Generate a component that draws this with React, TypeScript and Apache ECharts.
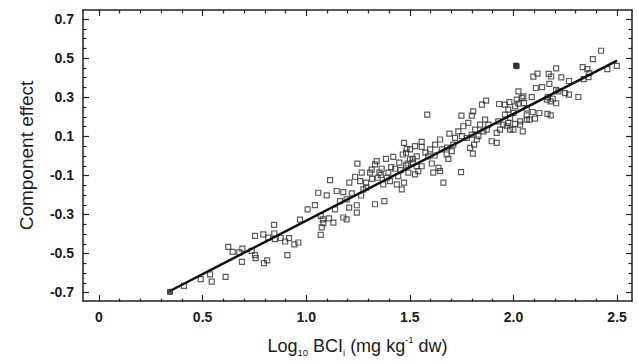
import React, { useEffect, useRef } from "react";
import * as echarts from "echarts";

// Axis ranges and tick values
const xRange = [-0.077, 2.572];
const yRange = [-0.746, 0.746];
const xMajor = [0, 0.5, 1.0, 1.5, 2.0, 2.5];
const xMinor = [0.1, 0.2, 0.3, 0.4, 0.6, 0.7, 0.8, 0.9, 1.1, 1.2, 1.3, 1.4, 1.6, 1.7, 1.8, 1.9, 2.1, 2.2, 2.3, 2.4];
const yMajor = [-0.7, -0.5, -0.3, -0.1, 0.1, 0.3, 0.5, 0.7];
const yMinor = [-0.65, -0.6, -0.55, -0.45, -0.4, -0.35, -0.25, -0.2, -0.15, -0.05, 0, 0.05, 0.15, 0.2, 0.25, 0.35, 0.4, 0.45, 0.55, 0.6, 0.65];

// Regression line end points [log10 BCI, component effect]
const fitLine: [number, number][] = [[0.34, -0.696], [2.5, 0.487]];

// Filled (overlapping) markers
const filledPoints: [number, number][] = [[0.343, -0.699], [2.015, 0.458], [2.013, 0.461]];

// Observations, low range
const lowPoints: [number, number][] = [
  [0.41, -0.668], [0.491, -0.634], [0.536, -0.61], [0.544, -0.647], [0.611, -0.622],
  [0.624, -0.469], [0.645, -0.494], [0.677, -0.497], [0.692, -0.477], [0.69, -0.545],
  [0.737, -0.489], [0.753, -0.511], [0.756, -0.526], [0.753, -0.412], [0.793, -0.404],
  [0.796, -0.552], [0.812, -0.538], [0.817, -0.421], [0.845, -0.356], [0.846, -0.4],
  [0.849, -0.429], [0.877, -0.423], [0.898, -0.441], [0.917, -0.424], [0.909, -0.511],
  [0.943, -0.456], [0.962, -0.446], [0.97, -0.329],
];

// Observations, middle range
const midPoints: [number, number][] = [
  [1.007, -0.276], [1.042, -0.254], [1.058, -0.191], [1.099, -0.204], [1.115, -0.126],
  [1.07, -0.31], [1.08, -0.327], [1.083, -0.347], [1.075, -0.369], [1.07, -0.407],
  [1.11, -0.322], [1.131, -0.344], [1.139, -0.276], [1.147, -0.182], [1.163, -0.234],
  [1.179, -0.188], [1.179, -0.318], [1.195, -0.225], [1.195, -0.327], [1.207, -0.267],
  [1.208, -0.139], [1.22, -0.194], [1.236, -0.109], [1.244, -0.255], [1.244, -0.293],
  [1.247, -0.042], [1.26, -0.131], [1.268, -0.088], [1.276, -0.174], [1.289, -0.139],
  [1.308, -0.088], [1.316, -0.072], [1.332, -0.25], [1.332, -0.046], [1.34, -0.029],
  [1.345, -0.114], [1.353, -0.088], [1.364, -0.068], [1.372, -0.148], [1.377, -0.234],
  [1.385, -0.017], [1.389, -0.114], [1.396, -0.088], [1.404, -0.131], [1.42, -0.007],
  [1.429, -0.068], [1.437, -0.148], [1.444, -0.106], [1.449, -0.037], [1.461, -0.174],
  [1.472, -0.139], [1.472, 0.065], [1.482, 0.014], [1.49, -0.041], [1.493, -0.088],
  [1.501, 0.031], [1.514, -0.017], [1.525, 0.048], [1.533, -0.055], [1.541, -0.08],
  [1.557, 0.07], [1.584, 0.21], [1.466, 0.005], [1.485, 0.034], [1.557, 0.044],
  [1.533, -0.004], [1.514, -0.037], [1.482, -0.051], [1.525, -0.097], [1.557, -0.055],
  [1.589, -0.004], [1.598, 0.031], [1.622, 0.056], [1.646, 0.082], [1.654, 0.031],
  [1.606, -0.041], [1.638, -0.063], [1.646, -0.08], [1.613, -0.088], [1.662, -0.139],
  [1.747, -0.085], [1.678, 0.005], [1.686, -0.017], [1.702, 0.022], [1.71, 0.056],
  [1.718, 0.09], [1.691, 0.112], [1.734, 0.124], [1.749, 0.204],
  [1.29, -0.165], [1.318, -0.12], [1.36, -0.1], [1.41, -0.06], [1.455, -0.075],
  [1.5, -0.02], [1.575, 0.015], [1.62, 0.0], [1.68, 0.04], [1.265, -0.205],
];

// Observations, high range
const highPoints: [number, number][] = [
  [1.758, 0.15], [1.782, 0.167], [1.799, 0.204], [1.806, 0.226], [1.751, 0.099],
  [1.775, 0.09], [1.799, 0.107], [1.815, 0.133], [1.823, 0.082], [1.839, 0.158],
  [1.831, 0.099], [1.855, 0.124], [1.863, 0.184], [1.871, 0.133], [1.879, 0.158],
  [1.895, 0.073], [1.919, 0.065], [1.919, 0.116], [1.927, 0.175], [1.935, 0.133],
  [1.951, 0.158], [1.959, 0.21], [1.975, 0.235], [1.984, 0.193], [1.984, 0.133],
  [2.0, 0.218], [2.008, 0.252], [2.016, 0.286], [2.024, 0.329], [2.04, 0.295],
  [2.051, 0.269], [2.032, 0.158], [2.045, 0.124], [2.064, 0.184], [1.848, 0.261],
  [1.868, 0.281], [1.931, 0.264], [1.791, 0.039], [1.804, 0.01], [1.81, 0.056],
  [2.423, 0.537], [2.383, 0.494], [2.499, 0.46], [2.453, 0.443], [2.334, 0.453],
  [2.357, 0.443], [2.366, 0.423], [2.339, 0.392], [2.362, 0.402], [2.313, 0.3],
  [2.206, 0.447], [2.17, 0.418], [2.182, 0.405], [2.231, 0.401], [2.268, 0.382],
  [2.096, 0.404], [2.116, 0.42], [2.108, 0.346], [2.138, 0.351], [2.173, 0.367],
  [2.206, 0.336], [2.217, 0.329], [2.249, 0.32], [2.268, 0.312], [2.165, 0.299],
  [2.19, 0.291], [2.161, 0.286], [2.179, 0.277], [2.206, 0.268], [2.048, 0.303],
  [2.024, 0.266], [2.088, 0.299], [2.064, 0.24], [1.959, 0.261], [1.98, 0.274],
  [2.093, 0.223], [2.125, 0.218], [2.164, 0.213], [2.18, 0.206], [2.064, 0.206],
  [2.104, 0.189], [2.077, 0.184], [2.032, 0.175], [2.008, 0.162], [1.975, 0.167],
  [1.968, 0.15], [2.0, 0.133],
];

const FONT = '"Liberation Sans", Arial, sans-serif';
const AXIS_COLOR = "#222222";
const TEXT_COLOR = "#1a1a1a";

function makeX(gridIndex: number, position: "bottom" | "top", values: number[], length: number, labels: boolean, line: boolean, extra: any = {}) {
  return {
    type: "value",
    gridIndex,
    min: xRange[0],
    max: xRange[1],
    position,
    axisLine: { show: line, onZero: false, lineStyle: { color: AXIS_COLOR, width: 1.5 } },
    axisTick: { show: true, inside: true, length, customValues: values, lineStyle: { color: AXIS_COLOR, width: 1.2 } },
    axisLabel: labels
      ? {
          show: true,
          customValues: values,
          margin: 9,
          color: TEXT_COLOR,
          fontFamily: FONT,
          fontWeight: "bold",
          fontSize: 14,
          formatter: (v: number) => (v === 0 ? "0" : v.toFixed(1)),
        }
      : { show: false },
    splitLine: { show: false },
    ...extra,
  };
}

function makeY(gridIndex: number, position: "left" | "right", values: number[], length: number, labels: boolean, line: boolean, extra: any = {}) {
  return {
    type: "value",
    gridIndex,
    min: yRange[0],
    max: yRange[1],
    position,
    axisLine: { show: line, onZero: false, lineStyle: { color: AXIS_COLOR, width: 1.5 } },
    axisTick: { show: true, inside: true, length, customValues: values, lineStyle: { color: AXIS_COLOR, width: 1.2 } },
    axisLabel: labels
      ? {
          show: true,
          customValues: values,
          margin: 9,
          color: TEXT_COLOR,
          fontFamily: FONT,
          fontWeight: "bold",
          fontSize: 14,
          formatter: (v: number) => v.toFixed(1),
        }
      : { show: false },
    splitLine: { show: false },
    ...extra,
  };
}

export default function App() {
  const ref = useRef<HTMLDivElement>(null);
  useEffect(() => {
    if (!ref.current) return;
    const chart = echarts.init(ref.current, null, { renderer: "svg" });
    const pointStyle = { color: "rgba(255,255,255,0)", borderColor: "#333333", borderWidth: 1.2 };
    const gridBox = { left: 83, right: 6, top: 10, bottom: 60 };
    chart.setOption({
      animation: false,
      backgroundColor: "#ffffff",
      grid: [gridBox, { ...gridBox }],
      xAxis: [
        makeX(0, "bottom", xMajor, 6, true, true, {
          name: "{n|Log}{s|10}{n| BCI}{s|i}{n| (mg kg}{p|-1}{n| dw)}",
          nameLocation: "middle",
          nameGap: 33,
          nameTextStyle: {
            color: TEXT_COLOR,
            fontFamily: FONT,
            rich: {
              n: { fontSize: 18, fontFamily: FONT, color: TEXT_COLOR, lineHeight: 23 },
              s: { fontSize: 9.5, fontFamily: FONT, color: TEXT_COLOR, verticalAlign: "bottom", lineHeight: 23 },
              p: { fontSize: 9.5, fontFamily: FONT, color: TEXT_COLOR, verticalAlign: "top", lineHeight: 23 },
            },
          },
        }),
        makeX(0, "top", xMajor, 6, false, true),
        makeX(1, "bottom", xMinor, 3.5, false, false),
        makeX(1, "top", xMinor, 3.5, false, false),
      ],
      yAxis: [
        makeY(0, "left", yMajor, 6, true, true, {
          name: "Component effect",
          nameLocation: "middle",
          nameGap: 47,
          nameTextStyle: { color: TEXT_COLOR, fontFamily: FONT, fontSize: 19 },
        }),
        makeY(0, "right", yMajor, 6, false, true),
        makeY(1, "left", yMinor, 3.5, false, false),
        makeY(1, "right", yMinor, 3.5, false, false),
      ],
      series: [
        {
          type: "scatter",
          symbol: "rect",
          symbolSize: 5,
          itemStyle: pointStyle,
          data: [...lowPoints, ...midPoints, ...highPoints],
          z: 2,
        },
        {
          type: "line",
          data: fitLine,
          symbol: "none",
          lineStyle: { color: "#111111", width: 2.5 },
          z: 3,
        },
        {
          type: "scatter",
          symbol: "rect",
          symbolSize: 5,
          itemStyle: { color: "#2a2a2a", borderColor: "#2a2a2a", borderWidth: 1 },
          data: filledPoints,
          z: 4,
        },
      ],
    });
    return () => chart.dispose();
  }, []);
  return (
    <div
      ref={ref}
      style={{ position: "fixed", left: 0, top: 0, width: 638, height: 362, background: "#fff" }}
    />
  );
}
